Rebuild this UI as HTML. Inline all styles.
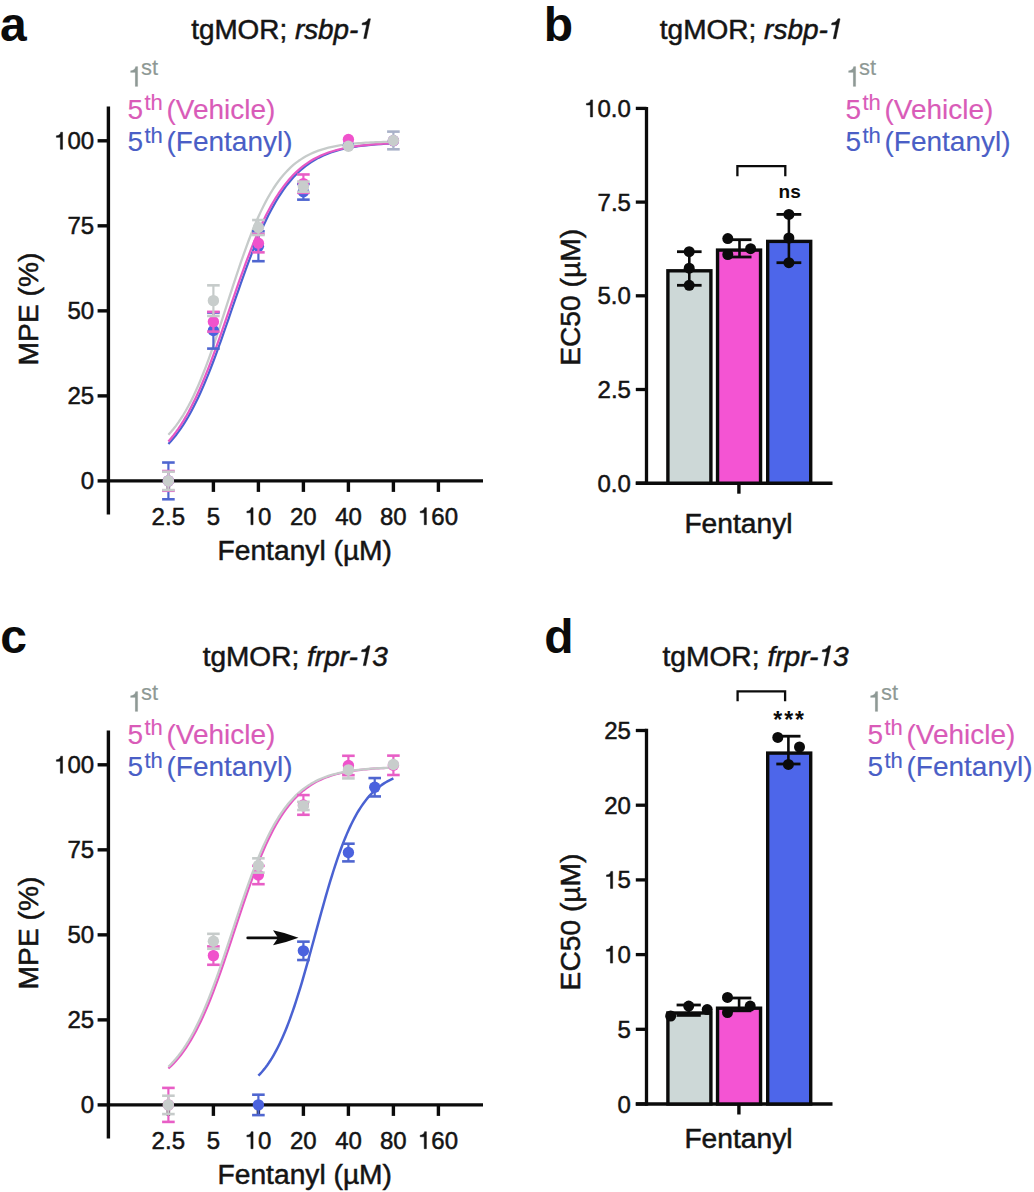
<!DOCTYPE html>
<html><head><meta charset="utf-8"><style>html,body{margin:0;padding:0;background:#fff;overflow:hidden;}svg{display:block;}</style></head><body>
<svg width="1034" height="1192" viewBox="0 0 1034 1192" font-family='"Liberation Sans", sans-serif'>
<rect width="1034" height="1192" fill="#ffffff"/>
<text x="0.11" y="41.00" font-size="48" font-weight="bold" font-style="normal" fill="#0b0b0b" stroke="#0b0b0b" stroke-width="0" >a</text>
<text x="543.83" y="41.00" font-size="48" font-weight="bold" font-style="normal" fill="#0b0b0b" stroke="#0b0b0b" stroke-width="0" >b</text>
<text x="0.13" y="653.00" font-size="48" font-weight="bold" font-style="normal" fill="#0b0b0b" stroke="#0b0b0b" stroke-width="0" >c</text>
<text x="544.23" y="653.20" font-size="48" font-weight="bold" font-style="normal" fill="#0b0b0b" stroke="#0b0b0b" stroke-width="0" >d</text>
<text x="191.18" y="38.60" font-size="27.86" fill="#141414" stroke="#141414" stroke-width="0.5">tgMOR;</text>
<text x="294.91" y="38.60" font-size="27.86" font-style="italic" fill="#141414" stroke="#141414" stroke-width="0.5">rsbp-</text>
<path d="M366.24,38.60 L363.74,38.60 L366.68,24.75 L362.03,24.75 L362.41,22.94 C365.36,22.83 367.41,21.33 368.33,18.85 L370.44,18.85 Z" fill="#141414" stroke="#141414" stroke-width="0.5" stroke-linejoin="round"/>
<text x="659.78" y="38.70" font-size="28.02" fill="#141414" stroke="#141414" stroke-width="0.5">tgMOR;</text>
<text x="764.08" y="38.70" font-size="28.02" font-style="italic" fill="#141414" stroke="#141414" stroke-width="0.5">rsbp-</text>
<path d="M835.81,38.70 L833.29,38.70 L836.25,24.78 L831.57,24.78 L831.96,22.95 C834.93,22.84 836.99,21.33 837.91,18.84 L840.04,18.84 Z" fill="#141414" stroke="#141414" stroke-width="0.5" stroke-linejoin="round"/>
<text x="202.68" y="665.60" font-size="28.03" fill="#141414" stroke="#141414" stroke-width="0.5">tgMOR;</text>
<text x="307.02" y="665.60" font-size="28.03" font-style="italic" fill="#141414" stroke="#141414" stroke-width="0.5">frpr-</text>
<path d="M365.79,665.60 L363.27,665.60 L366.23,651.67 L361.55,651.67 L361.93,649.85 C364.90,649.74 366.96,648.22 367.88,645.73 L370.01,645.73 Z" fill="#141414" stroke="#141414" stroke-width="0.5" stroke-linejoin="round"/>
<text x="372.35" y="665.60" font-size="28.03" font-style="italic" fill="#141414" stroke="#141414" stroke-width="0.5">3</text>
<text x="662.48" y="665.70" font-size="28.18" fill="#141414" stroke="#141414" stroke-width="0.5">tgMOR;</text>
<text x="767.38" y="665.70" font-size="28.18" font-style="italic" fill="#141414" stroke="#141414" stroke-width="0.5">frpr-</text>
<path d="M826.46,665.70 L823.93,665.70 L826.91,651.70 L822.20,651.70 L822.59,649.86 C825.57,649.75 827.64,648.23 828.57,645.72 L830.71,645.72 Z" fill="#141414" stroke="#141414" stroke-width="0.5" stroke-linejoin="round"/>
<text x="833.06" y="665.70" font-size="28.18" font-style="italic" fill="#141414" stroke="#141414" stroke-width="0.5">3</text>
<path d="M137.73,86.40 L135.21,86.40 L135.21,72.48 L130.53,72.48 L130.53,70.66 C133.47,70.55 135.21,69.04 135.60,66.55 L137.73,66.55 Z" fill="#8e9995" stroke="#8e9995" stroke-width="0.15" stroke-linejoin="round"/>
<text x="140.98" y="74.90" font-size="22.0" fill="#8e9995" stroke="#8e9995" stroke-width="0.15" >st</text>
<text x="127.48" y="118.60" font-size="28.0" fill="#d95bb8" stroke="#d95bb8" stroke-width="0.15" >5</text>
<text x="144.47" y="110.40" font-size="22.0" fill="#d95bb8" stroke="#d95bb8" stroke-width="0.15" >th</text>
<text x="166.46" y="118.60" font-size="28.0" fill="#d95bb8" stroke="#d95bb8" stroke-width="0.15" >(Vehicle)</text>
<text x="127.48" y="151.30" font-size="28.0" fill="#4a5ec6" stroke="#4a5ec6" stroke-width="0.15" >5</text>
<text x="144.47" y="143.10" font-size="22.0" fill="#4a5ec6" stroke="#4a5ec6" stroke-width="0.15" >th</text>
<text x="166.46" y="151.30" font-size="28.0" fill="#4a5ec6" stroke="#4a5ec6" stroke-width="0.15" >(Fentanyl)</text>
<path d="M855.73,86.40 L853.21,86.40 L853.21,72.48 L848.53,72.48 L848.53,70.66 C851.47,70.55 853.21,69.04 853.60,66.55 L855.73,66.55 Z" fill="#8e9995" stroke="#8e9995" stroke-width="0.15" stroke-linejoin="round"/>
<text x="858.98" y="74.90" font-size="22.0" fill="#8e9995" stroke="#8e9995" stroke-width="0.15" >st</text>
<text x="845.48" y="118.60" font-size="28.0" fill="#d95bb8" stroke="#d95bb8" stroke-width="0.15" >5</text>
<text x="862.47" y="110.40" font-size="22.0" fill="#d95bb8" stroke="#d95bb8" stroke-width="0.15" >th</text>
<text x="884.46" y="118.60" font-size="28.0" fill="#d95bb8" stroke="#d95bb8" stroke-width="0.15" >(Vehicle)</text>
<text x="845.48" y="151.30" font-size="28.0" fill="#4a5ec6" stroke="#4a5ec6" stroke-width="0.15" >5</text>
<text x="862.47" y="143.10" font-size="22.0" fill="#4a5ec6" stroke="#4a5ec6" stroke-width="0.15" >th</text>
<text x="884.46" y="151.30" font-size="28.0" fill="#4a5ec6" stroke="#4a5ec6" stroke-width="0.15" >(Fentanyl)</text>
<path d="M137.73,711.40 L135.21,711.40 L135.21,697.48 L130.53,697.48 L130.53,695.66 C133.47,695.55 135.21,694.04 135.60,691.55 L137.73,691.55 Z" fill="#8e9995" stroke="#8e9995" stroke-width="0.15" stroke-linejoin="round"/>
<text x="140.98" y="699.90" font-size="22.0" fill="#8e9995" stroke="#8e9995" stroke-width="0.15" >st</text>
<text x="127.48" y="743.60" font-size="28.0" fill="#d95bb8" stroke="#d95bb8" stroke-width="0.15" >5</text>
<text x="144.47" y="735.40" font-size="22.0" fill="#d95bb8" stroke="#d95bb8" stroke-width="0.15" >th</text>
<text x="166.46" y="743.60" font-size="28.0" fill="#d95bb8" stroke="#d95bb8" stroke-width="0.15" >(Vehicle)</text>
<text x="127.48" y="776.30" font-size="28.0" fill="#4a5ec6" stroke="#4a5ec6" stroke-width="0.15" >5</text>
<text x="144.47" y="768.10" font-size="22.0" fill="#4a5ec6" stroke="#4a5ec6" stroke-width="0.15" >th</text>
<text x="166.46" y="776.30" font-size="28.0" fill="#4a5ec6" stroke="#4a5ec6" stroke-width="0.15" >(Fentanyl)</text>
<path d="M877.73,711.40 L875.21,711.40 L875.21,697.48 L870.53,697.48 L870.53,695.66 C873.47,695.55 875.21,694.04 875.60,691.55 L877.73,691.55 Z" fill="#8e9995" stroke="#8e9995" stroke-width="0.15" stroke-linejoin="round"/>
<text x="880.98" y="699.90" font-size="22.0" fill="#8e9995" stroke="#8e9995" stroke-width="0.15" >st</text>
<text x="867.48" y="743.60" font-size="28.0" fill="#d95bb8" stroke="#d95bb8" stroke-width="0.15" >5</text>
<text x="884.47" y="735.40" font-size="22.0" fill="#d95bb8" stroke="#d95bb8" stroke-width="0.15" >th</text>
<text x="906.46" y="743.60" font-size="28.0" fill="#d95bb8" stroke="#d95bb8" stroke-width="0.15" >(Vehicle)</text>
<text x="867.48" y="776.30" font-size="28.0" fill="#4a5ec6" stroke="#4a5ec6" stroke-width="0.15" >5</text>
<text x="884.47" y="768.10" font-size="22.0" fill="#4a5ec6" stroke="#4a5ec6" stroke-width="0.15" >th</text>
<text x="906.46" y="776.30" font-size="28.0" fill="#4a5ec6" stroke="#4a5ec6" stroke-width="0.15" >(Fentanyl)</text>
<line x1="108.40" y1="106.40" x2="108.40" y2="514.50" stroke="#0b0b0b" stroke-width="3.4" stroke-linecap="butt"/>
<line x1="108.40" y1="480.90" x2="483.00" y2="480.90" stroke="#0b0b0b" stroke-width="3.4" stroke-linecap="butt"/>
<line x1="97.60" y1="480.90" x2="108.40" y2="480.90" stroke="#0b0b0b" stroke-width="3.4" stroke-linecap="butt"/>
<text x="80.79" y="489.40" font-size="24" fill="#141414" stroke="#141414" stroke-width="0.5" >0</text>
<line x1="97.60" y1="395.88" x2="108.40" y2="395.88" stroke="#0b0b0b" stroke-width="3.4" stroke-linecap="butt"/>
<text x="67.52" y="404.38" font-size="24" fill="#141414" stroke="#141414" stroke-width="0.5" >25</text>
<line x1="97.60" y1="310.85" x2="108.40" y2="310.85" stroke="#0b0b0b" stroke-width="3.4" stroke-linecap="butt"/>
<text x="67.45" y="319.35" font-size="24" fill="#141414" stroke="#141414" stroke-width="0.5" >50</text>
<line x1="97.60" y1="225.82" x2="108.40" y2="225.82" stroke="#0b0b0b" stroke-width="3.4" stroke-linecap="butt"/>
<text x="67.52" y="234.32" font-size="24" fill="#141414" stroke="#141414" stroke-width="0.5" >75</text>
<line x1="97.60" y1="140.80" x2="108.40" y2="140.80" stroke="#0b0b0b" stroke-width="3.4" stroke-linecap="butt"/>
<path d="M62.55,149.30 L60.39,149.30 L60.39,137.37 L56.38,137.37 L56.38,135.81 C58.90,135.72 60.39,134.42 60.73,132.28 L62.55,132.28 Z" fill="#141414" stroke="#141414" stroke-width="0.5" stroke-linejoin="round"/>
<text x="67.45" y="149.30" font-size="24" fill="#141414" stroke="#141414" stroke-width="0.5" >00</text>
<line x1="168.40" y1="480.90" x2="168.40" y2="491.90" stroke="#0b0b0b" stroke-width="3.4" stroke-linecap="butt"/>
<text x="151.62" y="524.70" font-size="24" fill="#141414" stroke="#141414" stroke-width="0.5" >2.5</text>
<line x1="213.40" y1="480.90" x2="213.40" y2="491.90" stroke="#0b0b0b" stroke-width="3.4" stroke-linecap="butt"/>
<text x="206.75" y="524.70" font-size="24" fill="#141414" stroke="#141414" stroke-width="0.5" >5</text>
<line x1="258.40" y1="480.90" x2="258.40" y2="491.90" stroke="#0b0b0b" stroke-width="3.4" stroke-linecap="butt"/>
<path d="M253.06,524.70 L250.90,524.70 L250.90,512.77 L246.89,512.77 L246.89,511.21 C249.41,511.12 250.90,509.82 251.24,507.68 L253.06,507.68 Z" fill="#141414" stroke="#141414" stroke-width="0.5" stroke-linejoin="round"/>
<text x="257.96" y="524.70" font-size="24" fill="#141414" stroke="#141414" stroke-width="0.5" >0</text>
<line x1="303.40" y1="480.90" x2="303.40" y2="491.90" stroke="#0b0b0b" stroke-width="3.4" stroke-linecap="butt"/>
<text x="289.92" y="524.70" font-size="24" fill="#141414" stroke="#141414" stroke-width="0.5" >20</text>
<line x1="348.40" y1="480.90" x2="348.40" y2="491.90" stroke="#0b0b0b" stroke-width="3.4" stroke-linecap="butt"/>
<text x="335.25" y="524.70" font-size="24" fill="#141414" stroke="#141414" stroke-width="0.5" >40</text>
<line x1="393.40" y1="480.90" x2="393.40" y2="491.90" stroke="#0b0b0b" stroke-width="3.4" stroke-linecap="butt"/>
<text x="380.01" y="524.70" font-size="24" fill="#141414" stroke="#141414" stroke-width="0.5" >80</text>
<line x1="438.40" y1="480.90" x2="438.40" y2="491.90" stroke="#0b0b0b" stroke-width="3.4" stroke-linecap="butt"/>
<path d="M426.39,524.70 L424.23,524.70 L424.23,512.77 L420.22,512.77 L420.22,511.21 C422.74,511.12 424.23,509.82 424.56,507.68 L426.39,507.68 Z" fill="#141414" stroke="#141414" stroke-width="0.5" stroke-linejoin="round"/>
<text x="431.29" y="524.70" font-size="24" fill="#141414" stroke="#141414" stroke-width="0.5" >60</text>
<text x="217.55" y="559.90" font-size="28.2" fill="#141414" stroke="#141414" stroke-width="0.5" >Fentanyl (µM)</text>
<text transform="translate(37.6,309.0) rotate(-90)" font-size="28.2" text-anchor="middle" fill="#141414" stroke="#141414" stroke-width="0.5">MPE (%)</text>
<polyline points="168.40,444.02 170.90,441.30 173.40,438.39 175.90,435.28 178.40,431.96 180.90,428.43 183.40,424.67 185.90,420.68 188.40,416.46 190.90,412.00 193.40,407.29 195.90,402.35 198.40,397.16 200.90,391.73 203.40,386.07 205.90,380.18 208.40,374.07 210.90,367.76 213.40,361.25 215.90,354.57 218.40,347.74 220.90,340.77 223.40,333.68 225.90,326.51 228.40,319.28 230.90,312.01 233.40,304.74 235.90,297.48 238.40,290.27 240.90,283.14 243.40,276.10 245.90,269.18 248.40,262.41 250.90,255.80 253.40,249.37 255.90,243.15 258.40,237.13 260.90,231.33 263.40,225.77 265.90,220.44 268.40,215.36 270.90,210.51 273.40,205.91 275.90,201.55 278.40,197.43 280.90,193.54 283.40,189.88 285.90,186.44 288.40,183.21 290.90,180.18 293.40,177.35 295.90,174.71 298.40,172.25 300.90,169.96 303.40,167.82 305.90,165.84 308.40,164.00 310.90,162.30 313.40,160.72 315.90,159.25 318.40,157.90 320.90,156.65 323.40,155.49 325.90,154.42 328.40,153.44 330.90,152.53 333.40,151.69 335.90,150.92 338.40,150.21 340.90,149.56 343.40,148.95 345.90,148.40 348.40,147.89 350.90,147.42 353.40,146.99 355.90,146.59 358.40,146.23 360.90,145.90 363.40,145.59 365.90,145.31 368.40,145.05 370.90,144.81 373.40,144.59 375.90,144.39 378.40,144.21 380.90,144.04 383.40,143.88 385.90,143.74 388.40,143.61 390.90,143.49 393.40,143.38" fill="none" stroke="#4a62d2" stroke-width="2.2" stroke-linejoin="round"/>
<polyline points="168.40,441.44 170.90,438.54 173.40,435.44 175.90,432.13 178.40,428.61 180.90,424.86 183.40,420.88 185.90,416.67 188.40,412.22 190.90,407.53 193.40,402.60 195.90,397.42 198.40,392.00 200.90,386.35 203.40,380.47 205.90,374.38 208.40,368.07 210.90,361.58 213.40,354.91 215.90,348.08 218.40,341.11 220.90,334.03 223.40,326.87 225.90,319.64 228.40,312.37 230.90,305.09 233.40,297.84 235.90,290.62 238.40,283.48 240.90,276.44 243.40,269.52 245.90,262.74 248.40,256.12 250.90,249.69 253.40,243.45 255.90,237.42 258.40,231.61 260.90,226.04 263.40,220.70 265.90,215.60 268.40,210.75 270.90,206.13 273.40,201.76 275.90,197.63 278.40,193.73 280.90,190.05 283.40,186.60 285.90,183.36 288.40,180.33 290.90,177.49 293.40,174.84 295.90,172.37 298.40,170.07 300.90,167.93 303.40,165.94 305.90,164.09 308.40,162.38 310.90,160.79 313.40,159.32 315.90,157.96 318.40,156.71 320.90,155.55 323.40,154.47 325.90,153.49 328.40,152.57 330.90,151.73 333.40,150.96 335.90,150.24 338.40,149.59 340.90,148.98 343.40,148.43 345.90,147.91 348.40,147.44 350.90,147.01 353.40,146.61 355.90,146.25 358.40,145.91 360.90,145.60 363.40,145.32 365.90,145.06 368.40,144.82 370.90,144.60 373.40,144.40 375.90,144.21 378.40,144.05 380.90,143.89 383.40,143.75 385.90,143.62 388.40,143.49 390.90,143.38 393.40,143.28" fill="none" stroke="#e658c4" stroke-width="2.2" stroke-linejoin="round"/>
<polyline points="168.40,434.76 170.90,432.01 173.40,429.04 175.90,425.84 178.40,422.40 180.90,418.71 183.40,414.76 185.90,410.53 188.40,406.03 190.90,401.24 193.40,396.17 195.90,390.82 198.40,385.17 200.90,379.25 203.40,373.05 205.90,366.59 208.40,359.89 210.90,352.95 213.40,345.81 215.90,338.48 218.40,331.00 220.90,323.40 223.40,315.70 225.90,307.95 228.40,300.17 230.90,292.41 233.40,284.70 235.90,277.07 238.40,269.56 240.90,262.20 243.40,255.01 245.90,248.02 248.40,241.26 250.90,234.74 253.40,228.49 255.90,222.50 258.40,216.79 260.90,211.37 263.40,206.23 265.90,201.38 268.40,196.81 270.90,192.52 273.40,188.51 275.90,184.75 278.40,181.26 280.90,178.00 283.40,174.98 285.90,172.18 288.40,169.59 290.90,167.19 293.40,164.98 295.90,162.95 298.40,161.07 300.90,159.35 303.40,157.77 305.90,156.32 308.40,154.99 310.90,153.77 313.40,152.66 315.90,151.64 318.40,150.70 320.90,149.85 323.40,149.07 325.90,148.36 328.40,147.72 330.90,147.13 333.40,146.59 335.90,146.10 338.40,145.65 340.90,145.24 343.40,144.87 345.90,144.53 348.40,144.22 350.90,143.94 353.40,143.69 355.90,143.46 358.40,143.25 360.90,143.06 363.40,142.88 365.90,142.72 368.40,142.58 370.90,142.45 373.40,142.33 375.90,142.22 378.40,142.12 380.90,142.03 383.40,141.95 385.90,141.88 388.40,141.81 390.90,141.75 393.40,141.69" fill="none" stroke="#c6cbca" stroke-width="2.3" stroke-linejoin="round"/>
<line x1="168.40" y1="462.53" x2="168.40" y2="499.27" stroke="#4f66d0" stroke-width="2.2" stroke-linecap="butt"/>
<line x1="162.10" y1="462.53" x2="174.70" y2="462.53" stroke="#4f66d0" stroke-width="2.6" stroke-linecap="butt"/>
<line x1="162.10" y1="499.27" x2="174.70" y2="499.27" stroke="#4f66d0" stroke-width="2.6" stroke-linecap="butt"/>
<line x1="213.40" y1="312.55" x2="213.40" y2="348.60" stroke="#4f66d0" stroke-width="2.2" stroke-linecap="butt"/>
<line x1="207.10" y1="312.55" x2="219.70" y2="312.55" stroke="#4f66d0" stroke-width="2.6" stroke-linecap="butt"/>
<line x1="207.10" y1="348.60" x2="219.70" y2="348.60" stroke="#4f66d0" stroke-width="2.6" stroke-linecap="butt"/>
<line x1="258.40" y1="231.27" x2="258.40" y2="261.20" stroke="#4f66d0" stroke-width="2.2" stroke-linecap="butt"/>
<line x1="252.10" y1="231.27" x2="264.70" y2="231.27" stroke="#4f66d0" stroke-width="2.6" stroke-linecap="butt"/>
<line x1="252.10" y1="261.20" x2="264.70" y2="261.20" stroke="#4f66d0" stroke-width="2.6" stroke-linecap="butt"/>
<line x1="303.40" y1="183.99" x2="303.40" y2="199.64" stroke="#4f66d0" stroke-width="2.2" stroke-linecap="butt"/>
<line x1="297.10" y1="183.99" x2="309.70" y2="183.99" stroke="#4f66d0" stroke-width="2.6" stroke-linecap="butt"/>
<line x1="297.10" y1="199.64" x2="309.70" y2="199.64" stroke="#4f66d0" stroke-width="2.6" stroke-linecap="butt"/>
<circle cx="168.40" cy="480.90" r="5.7" fill="#4b62de"/>
<circle cx="213.40" cy="330.58" r="5.7" fill="#4b62de"/>
<circle cx="258.40" cy="246.23" r="5.7" fill="#4b62de"/>
<circle cx="303.40" cy="191.81" r="5.7" fill="#4b62de"/>
<circle cx="348.40" cy="145.56" r="5.7" fill="#4b62de"/>
<circle cx="393.40" cy="140.80" r="5.7" fill="#4b62de"/>
<line x1="168.40" y1="471.04" x2="168.40" y2="490.76" stroke="#e85ec6" stroke-width="2.2" stroke-linecap="butt"/>
<line x1="162.10" y1="471.04" x2="174.70" y2="471.04" stroke="#e85ec6" stroke-width="2.6" stroke-linecap="butt"/>
<line x1="162.10" y1="490.76" x2="174.70" y2="490.76" stroke="#e85ec6" stroke-width="2.6" stroke-linecap="butt"/>
<line x1="213.40" y1="311.87" x2="213.40" y2="331.60" stroke="#e85ec6" stroke-width="2.2" stroke-linecap="butt"/>
<line x1="207.10" y1="311.87" x2="219.70" y2="311.87" stroke="#e85ec6" stroke-width="2.6" stroke-linecap="butt"/>
<line x1="207.10" y1="331.60" x2="219.70" y2="331.60" stroke="#e85ec6" stroke-width="2.6" stroke-linecap="butt"/>
<line x1="258.40" y1="233.99" x2="258.40" y2="252.35" stroke="#e85ec6" stroke-width="2.2" stroke-linecap="butt"/>
<line x1="252.10" y1="233.99" x2="264.70" y2="233.99" stroke="#e85ec6" stroke-width="2.6" stroke-linecap="butt"/>
<line x1="252.10" y1="252.35" x2="264.70" y2="252.35" stroke="#e85ec6" stroke-width="2.6" stroke-linecap="butt"/>
<line x1="303.40" y1="174.47" x2="303.40" y2="192.84" stroke="#e85ec6" stroke-width="2.2" stroke-linecap="butt"/>
<line x1="297.10" y1="174.47" x2="309.70" y2="174.47" stroke="#e85ec6" stroke-width="2.6" stroke-linecap="butt"/>
<line x1="297.10" y1="192.84" x2="309.70" y2="192.84" stroke="#e85ec6" stroke-width="2.6" stroke-linecap="butt"/>
<circle cx="168.40" cy="480.90" r="5.7" fill="#f052cc"/>
<circle cx="213.40" cy="321.73" r="5.7" fill="#f052cc"/>
<circle cx="258.40" cy="243.17" r="5.7" fill="#f052cc"/>
<circle cx="303.40" cy="183.65" r="5.7" fill="#f052cc"/>
<circle cx="348.40" cy="139.44" r="5.7" fill="#f052cc"/>
<circle cx="393.40" cy="140.80" r="5.7" fill="#f052cc"/>
<line x1="168.40" y1="471.72" x2="168.40" y2="490.08" stroke="#c6cbca" stroke-width="2.2" stroke-linecap="butt"/>
<line x1="162.10" y1="471.72" x2="174.70" y2="471.72" stroke="#c6cbca" stroke-width="2.6" stroke-linecap="butt"/>
<line x1="162.10" y1="490.08" x2="174.70" y2="490.08" stroke="#c6cbca" stroke-width="2.6" stroke-linecap="butt"/>
<line x1="213.40" y1="285.34" x2="213.40" y2="315.95" stroke="#c6cbca" stroke-width="2.2" stroke-linecap="butt"/>
<line x1="207.10" y1="285.34" x2="219.70" y2="285.34" stroke="#c6cbca" stroke-width="2.6" stroke-linecap="butt"/>
<line x1="207.10" y1="315.95" x2="219.70" y2="315.95" stroke="#c6cbca" stroke-width="2.6" stroke-linecap="butt"/>
<line x1="258.40" y1="220.04" x2="258.40" y2="235.01" stroke="#c6cbca" stroke-width="2.2" stroke-linecap="butt"/>
<line x1="252.10" y1="220.04" x2="264.70" y2="220.04" stroke="#c6cbca" stroke-width="2.6" stroke-linecap="butt"/>
<line x1="252.10" y1="235.01" x2="264.70" y2="235.01" stroke="#c6cbca" stroke-width="2.6" stroke-linecap="butt"/>
<line x1="303.40" y1="181.61" x2="303.40" y2="191.81" stroke="#c6cbca" stroke-width="2.2" stroke-linecap="butt"/>
<line x1="297.10" y1="181.61" x2="309.70" y2="181.61" stroke="#c6cbca" stroke-width="2.6" stroke-linecap="butt"/>
<line x1="297.10" y1="191.81" x2="309.70" y2="191.81" stroke="#c6cbca" stroke-width="2.6" stroke-linecap="butt"/>
<line x1="393.40" y1="131.62" x2="393.40" y2="149.30" stroke="#a9b1c8" stroke-width="2.2" stroke-linecap="butt"/>
<line x1="387.10" y1="131.62" x2="399.70" y2="131.62" stroke="#a9b1c8" stroke-width="2.6" stroke-linecap="butt"/>
<line x1="387.10" y1="149.30" x2="399.70" y2="149.30" stroke="#a9b1c8" stroke-width="2.6" stroke-linecap="butt"/>
<circle cx="168.40" cy="480.90" r="5.7" fill="#c8cdcc"/>
<circle cx="213.40" cy="300.65" r="5.7" fill="#c8cdcc"/>
<circle cx="258.40" cy="227.53" r="5.7" fill="#c8cdcc"/>
<circle cx="303.40" cy="186.71" r="5.7" fill="#c8cdcc"/>
<circle cx="348.40" cy="146.24" r="5.7" fill="#c8cdcc"/>
<circle cx="393.40" cy="140.46" r="5.7" fill="#c8cdcc"/>
<line x1="108.40" y1="730.40" x2="108.40" y2="1138.50" stroke="#0b0b0b" stroke-width="3.4" stroke-linecap="butt"/>
<line x1="108.40" y1="1104.90" x2="483.00" y2="1104.90" stroke="#0b0b0b" stroke-width="3.4" stroke-linecap="butt"/>
<line x1="97.60" y1="1104.90" x2="108.40" y2="1104.90" stroke="#0b0b0b" stroke-width="3.4" stroke-linecap="butt"/>
<text x="80.79" y="1113.40" font-size="24" fill="#141414" stroke="#141414" stroke-width="0.5" >0</text>
<line x1="97.60" y1="1019.88" x2="108.40" y2="1019.88" stroke="#0b0b0b" stroke-width="3.4" stroke-linecap="butt"/>
<text x="67.52" y="1028.38" font-size="24" fill="#141414" stroke="#141414" stroke-width="0.5" >25</text>
<line x1="97.60" y1="934.85" x2="108.40" y2="934.85" stroke="#0b0b0b" stroke-width="3.4" stroke-linecap="butt"/>
<text x="67.45" y="943.35" font-size="24" fill="#141414" stroke="#141414" stroke-width="0.5" >50</text>
<line x1="97.60" y1="849.83" x2="108.40" y2="849.83" stroke="#0b0b0b" stroke-width="3.4" stroke-linecap="butt"/>
<text x="67.52" y="858.33" font-size="24" fill="#141414" stroke="#141414" stroke-width="0.5" >75</text>
<line x1="97.60" y1="764.80" x2="108.40" y2="764.80" stroke="#0b0b0b" stroke-width="3.4" stroke-linecap="butt"/>
<path d="M62.55,773.30 L60.39,773.30 L60.39,761.37 L56.38,761.37 L56.38,759.81 C58.90,759.72 60.39,758.42 60.73,756.28 L62.55,756.28 Z" fill="#141414" stroke="#141414" stroke-width="0.5" stroke-linejoin="round"/>
<text x="67.45" y="773.30" font-size="24" fill="#141414" stroke="#141414" stroke-width="0.5" >00</text>
<line x1="168.40" y1="1104.90" x2="168.40" y2="1115.90" stroke="#0b0b0b" stroke-width="3.4" stroke-linecap="butt"/>
<text x="151.62" y="1148.70" font-size="24" fill="#141414" stroke="#141414" stroke-width="0.5" >2.5</text>
<line x1="213.40" y1="1104.90" x2="213.40" y2="1115.90" stroke="#0b0b0b" stroke-width="3.4" stroke-linecap="butt"/>
<text x="206.75" y="1148.70" font-size="24" fill="#141414" stroke="#141414" stroke-width="0.5" >5</text>
<line x1="258.40" y1="1104.90" x2="258.40" y2="1115.90" stroke="#0b0b0b" stroke-width="3.4" stroke-linecap="butt"/>
<path d="M253.06,1148.70 L250.90,1148.70 L250.90,1136.77 L246.89,1136.77 L246.89,1135.21 C249.41,1135.12 250.90,1133.82 251.24,1131.68 L253.06,1131.68 Z" fill="#141414" stroke="#141414" stroke-width="0.5" stroke-linejoin="round"/>
<text x="257.96" y="1148.70" font-size="24" fill="#141414" stroke="#141414" stroke-width="0.5" >0</text>
<line x1="303.40" y1="1104.90" x2="303.40" y2="1115.90" stroke="#0b0b0b" stroke-width="3.4" stroke-linecap="butt"/>
<text x="289.92" y="1148.70" font-size="24" fill="#141414" stroke="#141414" stroke-width="0.5" >20</text>
<line x1="348.40" y1="1104.90" x2="348.40" y2="1115.90" stroke="#0b0b0b" stroke-width="3.4" stroke-linecap="butt"/>
<text x="335.25" y="1148.70" font-size="24" fill="#141414" stroke="#141414" stroke-width="0.5" >40</text>
<line x1="393.40" y1="1104.90" x2="393.40" y2="1115.90" stroke="#0b0b0b" stroke-width="3.4" stroke-linecap="butt"/>
<text x="380.01" y="1148.70" font-size="24" fill="#141414" stroke="#141414" stroke-width="0.5" >80</text>
<line x1="438.40" y1="1104.90" x2="438.40" y2="1115.90" stroke="#0b0b0b" stroke-width="3.4" stroke-linecap="butt"/>
<path d="M426.39,1148.70 L424.23,1148.70 L424.23,1136.77 L420.22,1136.77 L420.22,1135.21 C422.74,1135.12 424.23,1133.82 424.56,1131.68 L426.39,1131.68 Z" fill="#141414" stroke="#141414" stroke-width="0.5" stroke-linejoin="round"/>
<text x="431.29" y="1148.70" font-size="24" fill="#141414" stroke="#141414" stroke-width="0.5" >60</text>
<text x="217.55" y="1183.90" font-size="28.2" fill="#141414" stroke="#141414" stroke-width="0.5" >Fentanyl (µM)</text>
<text transform="translate(37.6,933.0) rotate(-90)" font-size="28.2" text-anchor="middle" fill="#141414" stroke="#141414" stroke-width="0.5">MPE (%)</text>
<polyline points="258.40,1075.71 259.90,1074.15 261.40,1072.50 262.90,1070.76 264.40,1068.91 265.90,1066.97 267.40,1064.92 268.90,1062.76 270.40,1060.49 271.90,1058.10 273.40,1055.58 274.90,1052.94 276.40,1050.17 277.90,1047.27 279.40,1044.24 280.90,1041.07 282.40,1037.76 283.90,1034.31 285.40,1030.72 286.90,1026.98 288.40,1023.11 289.90,1019.09 291.40,1014.94 292.90,1010.65 294.40,1006.23 295.90,1001.67 297.40,996.99 298.90,992.20 300.40,987.29 301.90,982.27 303.40,977.16 304.90,971.96 306.40,966.68 307.90,961.33 309.40,955.92 310.90,950.47 312.40,944.98 313.90,939.46 315.40,933.94 316.90,928.41 318.40,922.90 319.90,917.42 321.40,911.97 322.90,906.57 324.40,901.23 325.90,895.96 327.40,890.77 328.90,885.67 330.40,880.67 331.90,875.78 333.40,871.00 334.90,866.34 336.40,861.80 337.90,857.40 339.40,853.13 340.90,848.99 342.40,845.00 343.90,841.14 345.40,837.43 346.90,833.86 348.40,830.43 349.90,827.14 351.40,823.99 352.90,820.97 354.40,818.09 355.90,815.35 357.40,812.72 358.90,810.23 360.40,807.85 361.90,805.60 363.40,803.45 364.90,801.42 366.40,799.49 367.90,797.66 369.40,795.94 370.90,794.30 372.40,792.75 373.90,791.29 375.40,789.91 376.90,788.61 378.40,787.38 379.90,786.23 381.40,785.14 382.90,784.11 384.40,783.14 385.90,782.23 387.40,781.38 388.90,780.57 390.40,779.81 391.90,779.10 393.40,778.43" fill="none" stroke="#4a62d2" stroke-width="2.5" stroke-linejoin="round"/>
<polyline points="168.40,1068.51 170.90,1066.20 173.40,1063.70 175.90,1061.00 178.40,1058.10 180.90,1054.98 183.40,1051.64 185.90,1048.06 188.40,1044.24 190.90,1040.16 193.40,1035.82 195.90,1031.22 198.40,1026.35 200.90,1021.22 203.40,1015.81 205.90,1010.13 208.40,1004.20 210.90,998.02 213.40,991.59 215.90,984.94 218.40,978.09 220.90,971.05 223.40,963.85 225.90,956.51 228.40,949.07 230.90,941.55 233.40,933.98 235.90,926.40 238.40,918.83 240.90,911.32 243.40,903.89 245.90,896.57 248.40,889.39 250.90,882.38 253.40,875.55 255.90,868.94 258.40,862.55 260.90,856.40 263.40,850.50 265.90,844.87 268.40,839.50 270.90,834.40 273.40,829.57 275.90,825.00 278.40,820.71 280.90,816.67 283.40,812.88 285.90,809.33 288.40,806.02 290.90,802.94 293.40,800.07 295.90,797.40 298.40,794.93 300.90,792.64 303.40,790.52 305.90,788.56 308.40,786.75 310.90,785.08 313.40,783.55 315.90,782.14 318.40,780.84 320.90,779.64 323.40,778.55 325.90,777.54 328.40,776.62 330.90,775.77 333.40,775.00 335.90,774.29 338.40,773.64 340.90,773.04 343.40,772.50 345.90,772.00 348.40,771.55 350.90,771.13 353.40,770.75 355.90,770.40 358.40,770.08 360.90,769.79 363.40,769.53 365.90,769.29 368.40,769.07 370.90,768.87 373.40,768.68 375.90,768.51 378.40,768.36 380.90,768.22 383.40,768.09 385.90,767.98 388.40,767.87 390.90,767.77 393.40,767.69" fill="none" stroke="#e658c4" stroke-width="2.2" stroke-linejoin="round"/>
<polyline points="168.40,1066.70 170.90,1064.24 173.40,1061.59 175.90,1058.73 178.40,1055.66 180.90,1052.37 183.40,1048.84 185.90,1045.07 188.40,1041.04 190.90,1036.76 193.40,1032.22 195.90,1027.40 198.40,1022.32 200.90,1016.97 203.40,1011.35 205.90,1005.47 208.40,999.34 210.90,992.97 213.40,986.37 215.90,979.55 218.40,972.55 220.90,965.38 223.40,958.07 225.90,950.65 228.40,943.14 230.90,935.58 233.40,928.00 235.90,920.43 238.40,912.90 240.90,905.45 243.40,898.11 245.90,890.89 248.40,883.84 250.90,876.98 253.40,870.31 255.90,863.88 258.40,857.68 260.90,851.72 263.40,846.03 265.90,840.61 268.40,835.45 270.90,830.56 273.40,825.94 275.90,821.59 278.40,817.50 280.90,813.66 283.40,810.06 285.90,806.70 288.40,803.57 290.90,800.66 293.40,797.95 295.90,795.43 298.40,793.10 300.90,790.95 303.40,788.96 305.90,787.12 308.40,785.42 310.90,783.86 313.40,782.42 315.90,781.10 318.40,779.89 320.90,778.77 323.40,777.75 325.90,776.81 328.40,775.94 330.90,775.15 333.40,774.43 335.90,773.77 338.40,773.16 340.90,772.61 343.40,772.10 345.90,771.64 348.40,771.21 350.90,770.83 353.40,770.47 355.90,770.15 358.40,769.85 360.90,769.58 363.40,769.34 365.90,769.11 368.40,768.91 370.90,768.72 373.40,768.55 375.90,768.39 378.40,768.25 380.90,768.12 383.40,768.00 385.90,767.89 388.40,767.79 390.90,767.70 393.40,767.62" fill="none" stroke="#c6cbca" stroke-width="2.3" stroke-linejoin="round"/>
<line x1="258.40" y1="1094.70" x2="258.40" y2="1115.10" stroke="#4f66d0" stroke-width="2.2" stroke-linecap="butt"/>
<line x1="252.10" y1="1094.70" x2="264.70" y2="1094.70" stroke="#4f66d0" stroke-width="2.6" stroke-linecap="butt"/>
<line x1="252.10" y1="1115.10" x2="264.70" y2="1115.10" stroke="#4f66d0" stroke-width="2.6" stroke-linecap="butt"/>
<line x1="303.40" y1="941.65" x2="303.40" y2="960.02" stroke="#4f66d0" stroke-width="2.2" stroke-linecap="butt"/>
<line x1="297.10" y1="941.65" x2="309.70" y2="941.65" stroke="#4f66d0" stroke-width="2.6" stroke-linecap="butt"/>
<line x1="297.10" y1="960.02" x2="309.70" y2="960.02" stroke="#4f66d0" stroke-width="2.6" stroke-linecap="butt"/>
<line x1="348.40" y1="843.70" x2="348.40" y2="861.39" stroke="#4f66d0" stroke-width="2.2" stroke-linecap="butt"/>
<line x1="342.10" y1="843.70" x2="354.70" y2="843.70" stroke="#4f66d0" stroke-width="2.6" stroke-linecap="butt"/>
<line x1="342.10" y1="861.39" x2="354.70" y2="861.39" stroke="#4f66d0" stroke-width="2.6" stroke-linecap="butt"/>
<line x1="374.72" y1="778.06" x2="374.72" y2="796.43" stroke="#4f66d0" stroke-width="2.2" stroke-linecap="butt"/>
<line x1="368.42" y1="778.06" x2="381.02" y2="778.06" stroke="#4f66d0" stroke-width="2.6" stroke-linecap="butt"/>
<line x1="368.42" y1="796.43" x2="381.02" y2="796.43" stroke="#4f66d0" stroke-width="2.6" stroke-linecap="butt"/>
<circle cx="258.40" cy="1104.90" r="5.7" fill="#4b62de"/>
<circle cx="303.40" cy="950.83" r="5.7" fill="#4b62de"/>
<circle cx="348.40" cy="852.55" r="5.7" fill="#4b62de"/>
<circle cx="374.72" cy="787.25" r="5.7" fill="#4b62de"/>
<line x1="168.40" y1="1087.89" x2="168.40" y2="1121.91" stroke="#e85ec6" stroke-width="2.2" stroke-linecap="butt"/>
<line x1="162.10" y1="1087.89" x2="174.70" y2="1087.89" stroke="#e85ec6" stroke-width="2.6" stroke-linecap="butt"/>
<line x1="162.10" y1="1121.91" x2="174.70" y2="1121.91" stroke="#e85ec6" stroke-width="2.6" stroke-linecap="butt"/>
<line x1="213.40" y1="946.41" x2="213.40" y2="964.78" stroke="#e85ec6" stroke-width="2.2" stroke-linecap="butt"/>
<line x1="207.10" y1="946.41" x2="219.70" y2="946.41" stroke="#e85ec6" stroke-width="2.6" stroke-linecap="butt"/>
<line x1="207.10" y1="964.78" x2="219.70" y2="964.78" stroke="#e85ec6" stroke-width="2.6" stroke-linecap="butt"/>
<line x1="258.40" y1="865.81" x2="258.40" y2="884.18" stroke="#e85ec6" stroke-width="2.2" stroke-linecap="butt"/>
<line x1="252.10" y1="865.81" x2="264.70" y2="865.81" stroke="#e85ec6" stroke-width="2.6" stroke-linecap="butt"/>
<line x1="252.10" y1="884.18" x2="264.70" y2="884.18" stroke="#e85ec6" stroke-width="2.6" stroke-linecap="butt"/>
<line x1="303.40" y1="795.07" x2="303.40" y2="814.79" stroke="#e85ec6" stroke-width="2.2" stroke-linecap="butt"/>
<line x1="297.10" y1="795.07" x2="309.70" y2="795.07" stroke="#e85ec6" stroke-width="2.6" stroke-linecap="butt"/>
<line x1="297.10" y1="814.79" x2="309.70" y2="814.79" stroke="#e85ec6" stroke-width="2.6" stroke-linecap="butt"/>
<line x1="348.40" y1="755.79" x2="348.40" y2="775.17" stroke="#e85ec6" stroke-width="2.2" stroke-linecap="butt"/>
<line x1="342.10" y1="755.79" x2="354.70" y2="755.79" stroke="#e85ec6" stroke-width="2.6" stroke-linecap="butt"/>
<line x1="342.10" y1="775.17" x2="354.70" y2="775.17" stroke="#e85ec6" stroke-width="2.6" stroke-linecap="butt"/>
<line x1="393.40" y1="755.62" x2="393.40" y2="775.00" stroke="#e85ec6" stroke-width="2.2" stroke-linecap="butt"/>
<line x1="387.10" y1="755.62" x2="399.70" y2="755.62" stroke="#e85ec6" stroke-width="2.6" stroke-linecap="butt"/>
<line x1="387.10" y1="775.00" x2="399.70" y2="775.00" stroke="#e85ec6" stroke-width="2.6" stroke-linecap="butt"/>
<circle cx="168.40" cy="1104.90" r="5.7" fill="#f052cc"/>
<circle cx="213.40" cy="955.60" r="5.7" fill="#f052cc"/>
<circle cx="258.40" cy="874.99" r="5.7" fill="#f052cc"/>
<circle cx="303.40" cy="804.93" r="5.7" fill="#f052cc"/>
<circle cx="348.40" cy="765.48" r="5.7" fill="#f052cc"/>
<circle cx="393.40" cy="765.31" r="5.7" fill="#f052cc"/>
<line x1="168.40" y1="1095.72" x2="168.40" y2="1114.08" stroke="#c6cbca" stroke-width="2.2" stroke-linecap="butt"/>
<line x1="162.10" y1="1095.72" x2="174.70" y2="1095.72" stroke="#c6cbca" stroke-width="2.6" stroke-linecap="butt"/>
<line x1="162.10" y1="1114.08" x2="174.70" y2="1114.08" stroke="#c6cbca" stroke-width="2.6" stroke-linecap="butt"/>
<line x1="213.40" y1="933.83" x2="213.40" y2="948.79" stroke="#c6cbca" stroke-width="2.2" stroke-linecap="butt"/>
<line x1="207.10" y1="933.83" x2="219.70" y2="933.83" stroke="#c6cbca" stroke-width="2.6" stroke-linecap="butt"/>
<line x1="207.10" y1="948.79" x2="219.70" y2="948.79" stroke="#c6cbca" stroke-width="2.6" stroke-linecap="butt"/>
<line x1="258.40" y1="858.33" x2="258.40" y2="872.61" stroke="#c6cbca" stroke-width="2.2" stroke-linecap="butt"/>
<line x1="252.10" y1="858.33" x2="264.70" y2="858.33" stroke="#c6cbca" stroke-width="2.6" stroke-linecap="butt"/>
<line x1="252.10" y1="872.61" x2="264.70" y2="872.61" stroke="#c6cbca" stroke-width="2.6" stroke-linecap="butt"/>
<line x1="303.40" y1="801.87" x2="303.40" y2="810.03" stroke="#c6cbca" stroke-width="2.2" stroke-linecap="butt"/>
<line x1="297.10" y1="801.87" x2="309.70" y2="801.87" stroke="#c6cbca" stroke-width="2.6" stroke-linecap="butt"/>
<line x1="297.10" y1="810.03" x2="309.70" y2="810.03" stroke="#c6cbca" stroke-width="2.6" stroke-linecap="butt"/>
<line x1="348.40" y1="769.90" x2="348.40" y2="778.40" stroke="#c6cbca" stroke-width="2.2" stroke-linecap="butt"/>
<line x1="342.10" y1="778.40" x2="354.70" y2="778.40" stroke="#c6cbca" stroke-width="2.6" stroke-linecap="butt"/>
<circle cx="168.40" cy="1104.90" r="5.7" fill="#c8cdcc"/>
<circle cx="213.40" cy="941.31" r="5.7" fill="#c8cdcc"/>
<circle cx="258.40" cy="865.47" r="5.7" fill="#c8cdcc"/>
<circle cx="303.40" cy="805.95" r="5.7" fill="#c8cdcc"/>
<circle cx="348.40" cy="769.90" r="5.7" fill="#c8cdcc"/>
<circle cx="393.40" cy="764.46" r="5.7" fill="#c8cdcc"/>
<line x1="247.80" y1="937.90" x2="280.00" y2="937.90" stroke="#0b0b0b" stroke-width="2.9" stroke-linecap="round"/>
<path d="M298.5,937.7 Q285,932.5 273,930.2 L278,937.7 L273,945.2 Q285,942.9 298.5,937.7 Z" fill="#0b0b0b"/>
<line x1="646.50" y1="106.90" x2="646.50" y2="484.90" stroke="#0b0b0b" stroke-width="3.3" stroke-linecap="butt"/>
<line x1="635.80" y1="483.20" x2="832.50" y2="483.20" stroke="#0b0b0b" stroke-width="3.4" stroke-linecap="butt"/>
<line x1="635.80" y1="483.20" x2="646.50" y2="483.20" stroke="#0b0b0b" stroke-width="3.3" stroke-linecap="butt"/>
<text x="597.48" y="491.70" font-size="24" fill="#141414" stroke="#141414" stroke-width="0.5" >0.0</text>
<line x1="635.80" y1="389.50" x2="646.50" y2="389.50" stroke="#0b0b0b" stroke-width="3.3" stroke-linecap="butt"/>
<text x="597.55" y="398.00" font-size="24" fill="#141414" stroke="#141414" stroke-width="0.5" >2.5</text>
<line x1="635.80" y1="295.80" x2="646.50" y2="295.80" stroke="#0b0b0b" stroke-width="3.3" stroke-linecap="butt"/>
<text x="597.48" y="304.30" font-size="24" fill="#141414" stroke="#141414" stroke-width="0.5" >5.0</text>
<line x1="635.80" y1="202.10" x2="646.50" y2="202.10" stroke="#0b0b0b" stroke-width="3.3" stroke-linecap="butt"/>
<text x="597.55" y="210.60" font-size="24" fill="#141414" stroke="#141414" stroke-width="0.5" >7.5</text>
<line x1="635.80" y1="108.40" x2="646.50" y2="108.40" stroke="#0b0b0b" stroke-width="3.3" stroke-linecap="butt"/>
<path d="M592.58,116.90 L590.42,116.90 L590.42,104.97 L586.41,104.97 L586.41,103.41 C588.93,103.32 590.42,102.02 590.76,99.88 L592.58,99.88 Z" fill="#141414" stroke="#141414" stroke-width="0.5" stroke-linejoin="round"/>
<text x="597.48" y="116.90" font-size="24" fill="#141414" stroke="#141414" stroke-width="0.5" >0.0</text>
<line x1="738.90" y1="483.20" x2="738.90" y2="493.70" stroke="#0b0b0b" stroke-width="3.4" stroke-linecap="butt"/>
<text x="684.42" y="532.80" font-size="28.2" fill="#141414" stroke="#141414" stroke-width="0.5" >Fentanyl</text>
<text transform="translate(579.6,297.4) rotate(-90)" font-size="28.2" text-anchor="middle" fill="#141414" stroke="#141414" stroke-width="0.5">EC50 (µM)</text>
<rect x="667.90" y="270.80" width="43" height="212.40" fill="#cdd8d7" stroke="#0b0b0b" stroke-width="3.4"/>
<rect x="717.55" y="250.10" width="43" height="233.10" fill="#f454d3" stroke="#0b0b0b" stroke-width="3.4"/>
<rect x="767.70" y="241.40" width="43" height="241.80" fill="#4d66ea" stroke="#0b0b0b" stroke-width="3.4"/>
<line x1="689.30" y1="251.70" x2="689.30" y2="285.30" stroke="#0b0b0b" stroke-width="2.6" stroke-linecap="butt"/>
<line x1="677.00" y1="251.70" x2="701.60" y2="251.70" stroke="#0b0b0b" stroke-width="2.8" stroke-linecap="butt"/>
<line x1="677.00" y1="285.30" x2="701.60" y2="285.30" stroke="#0b0b0b" stroke-width="2.8" stroke-linecap="butt"/>
<circle cx="689.20" cy="251.70" r="5.5" fill="#0b0b0b"/>
<circle cx="689.20" cy="268.20" r="5.5" fill="#0b0b0b"/>
<circle cx="689.20" cy="285.30" r="5.5" fill="#0b0b0b"/>
<line x1="739.50" y1="239.70" x2="739.50" y2="257.00" stroke="#0b0b0b" stroke-width="2.6" stroke-linecap="butt"/>
<line x1="727.50" y1="239.70" x2="751.50" y2="239.70" stroke="#0b0b0b" stroke-width="2.8" stroke-linecap="butt"/>
<line x1="727.50" y1="257.00" x2="751.50" y2="257.00" stroke="#0b0b0b" stroke-width="2.8" stroke-linecap="butt"/>
<circle cx="727.80" cy="238.60" r="5.5" fill="#0b0b0b"/>
<circle cx="727.80" cy="254.50" r="5.5" fill="#0b0b0b"/>
<circle cx="750.60" cy="248.70" r="5.5" fill="#0b0b0b"/>
<line x1="788.90" y1="214.40" x2="788.90" y2="262.70" stroke="#0b0b0b" stroke-width="2.6" stroke-linecap="butt"/>
<line x1="776.50" y1="214.40" x2="801.30" y2="214.40" stroke="#0b0b0b" stroke-width="2.8" stroke-linecap="butt"/>
<line x1="776.50" y1="262.70" x2="801.30" y2="262.70" stroke="#0b0b0b" stroke-width="2.8" stroke-linecap="butt"/>
<circle cx="788.90" cy="214.40" r="5.5" fill="#0b0b0b"/>
<circle cx="788.90" cy="238.00" r="5.5" fill="#0b0b0b"/>
<circle cx="788.90" cy="262.70" r="5.5" fill="#0b0b0b"/>
<path d="M737.4,176.3 L737.4,166.1 L785.3,166.1 L785.3,176.3" fill="none" stroke="#0b0b0b" stroke-width="2.3"/>
<text x="778.55" y="198.30" font-size="19" font-weight="bold" font-style="normal" fill="#0b0b0b" stroke="#0b0b0b" stroke-width="0" >ns</text>
<line x1="646.50" y1="728.80" x2="646.50" y2="1105.70" stroke="#0b0b0b" stroke-width="3.3" stroke-linecap="butt"/>
<line x1="635.80" y1="1104.00" x2="832.50" y2="1104.00" stroke="#0b0b0b" stroke-width="3.4" stroke-linecap="butt"/>
<line x1="635.80" y1="1104.00" x2="646.50" y2="1104.00" stroke="#0b0b0b" stroke-width="3.3" stroke-linecap="butt"/>
<text x="617.49" y="1112.50" font-size="24" fill="#141414" stroke="#141414" stroke-width="0.5" >0</text>
<line x1="635.80" y1="1029.30" x2="646.50" y2="1029.30" stroke="#0b0b0b" stroke-width="3.3" stroke-linecap="butt"/>
<text x="617.56" y="1037.80" font-size="24" fill="#141414" stroke="#141414" stroke-width="0.5" >5</text>
<line x1="635.80" y1="954.60" x2="646.50" y2="954.60" stroke="#0b0b0b" stroke-width="3.3" stroke-linecap="butt"/>
<path d="M612.60,963.10 L610.44,963.10 L610.44,951.17 L606.43,951.17 L606.43,949.61 C608.95,949.52 610.44,948.22 610.77,946.08 L612.60,946.08 Z" fill="#141414" stroke="#141414" stroke-width="0.5" stroke-linejoin="round"/>
<text x="617.50" y="963.10" font-size="24" fill="#141414" stroke="#141414" stroke-width="0.5" >0</text>
<line x1="635.80" y1="879.90" x2="646.50" y2="879.90" stroke="#0b0b0b" stroke-width="3.3" stroke-linecap="butt"/>
<path d="M612.67,888.40 L610.51,888.40 L610.51,876.47 L606.50,876.47 L606.50,874.91 C609.02,874.82 610.51,873.52 610.84,871.38 L612.67,871.38 Z" fill="#141414" stroke="#141414" stroke-width="0.5" stroke-linejoin="round"/>
<text x="617.57" y="888.40" font-size="24" fill="#141414" stroke="#141414" stroke-width="0.5" >5</text>
<line x1="635.80" y1="805.20" x2="646.50" y2="805.20" stroke="#0b0b0b" stroke-width="3.3" stroke-linecap="butt"/>
<text x="604.15" y="813.70" font-size="24" fill="#141414" stroke="#141414" stroke-width="0.5" >20</text>
<line x1="635.80" y1="730.50" x2="646.50" y2="730.50" stroke="#0b0b0b" stroke-width="3.3" stroke-linecap="butt"/>
<text x="604.22" y="739.00" font-size="24" fill="#141414" stroke="#141414" stroke-width="0.5" >25</text>
<line x1="738.90" y1="1104.00" x2="738.90" y2="1114.50" stroke="#0b0b0b" stroke-width="3.4" stroke-linecap="butt"/>
<text x="684.42" y="1148.00" font-size="28.2" fill="#141414" stroke="#141414" stroke-width="0.5" >Fentanyl</text>
<text transform="translate(579.6,922.0) rotate(-90)" font-size="28.2" text-anchor="middle" fill="#141414" stroke="#141414" stroke-width="0.5">EC50 (µM)</text>
<rect x="667.90" y="1013.00" width="43" height="91.00" fill="#cdd8d7" stroke="#0b0b0b" stroke-width="3.4"/>
<rect x="717.55" y="1008.20" width="43" height="95.80" fill="#f454d3" stroke="#0b0b0b" stroke-width="3.4"/>
<rect x="767.70" y="753.10" width="43" height="350.90" fill="#4d66ea" stroke="#0b0b0b" stroke-width="3.4"/>
<line x1="688.70" y1="1005.00" x2="688.70" y2="1015.40" stroke="#0b0b0b" stroke-width="2.6" stroke-linecap="butt"/>
<line x1="676.60" y1="1005.00" x2="700.80" y2="1005.00" stroke="#0b0b0b" stroke-width="2.8" stroke-linecap="butt"/>
<line x1="676.60" y1="1015.40" x2="700.80" y2="1015.40" stroke="#0b0b0b" stroke-width="2.8" stroke-linecap="butt"/>
<circle cx="670.70" cy="1016.00" r="5.5" fill="#0b0b0b"/>
<circle cx="688.70" cy="1006.10" r="5.5" fill="#0b0b0b"/>
<circle cx="707.20" cy="1009.60" r="5.5" fill="#0b0b0b"/>
<line x1="739.10" y1="998.00" x2="739.10" y2="1010.80" stroke="#0b0b0b" stroke-width="2.6" stroke-linecap="butt"/>
<line x1="726.90" y1="998.00" x2="751.30" y2="998.00" stroke="#0b0b0b" stroke-width="2.8" stroke-linecap="butt"/>
<line x1="726.90" y1="1010.80" x2="751.30" y2="1010.80" stroke="#0b0b0b" stroke-width="2.8" stroke-linecap="butt"/>
<circle cx="727.50" cy="997.40" r="5.5" fill="#0b0b0b"/>
<circle cx="727.50" cy="1012.50" r="5.5" fill="#0b0b0b"/>
<circle cx="750.20" cy="1006.10" r="5.5" fill="#0b0b0b"/>
<line x1="788.40" y1="736.20" x2="788.40" y2="764.00" stroke="#0b0b0b" stroke-width="2.6" stroke-linecap="butt"/>
<line x1="776.30" y1="736.20" x2="800.50" y2="736.20" stroke="#0b0b0b" stroke-width="2.8" stroke-linecap="butt"/>
<line x1="776.30" y1="764.00" x2="800.50" y2="764.00" stroke="#0b0b0b" stroke-width="2.8" stroke-linecap="butt"/>
<circle cx="777.80" cy="737.40" r="5.5" fill="#0b0b0b"/>
<circle cx="799.50" cy="747.00" r="5.5" fill="#0b0b0b"/>
<circle cx="788.40" cy="764.40" r="5.5" fill="#0b0b0b"/>
<path d="M737.6,701.3 L737.6,691.3 L785.1,691.3 L785.1,701.3" fill="none" stroke="#0b0b0b" stroke-width="2.3"/>
<text x="773.2" y="727.7" font-size="23" font-weight="bold" letter-spacing="2" fill="#0b0b0b">***</text>
</svg>
</body></html>
